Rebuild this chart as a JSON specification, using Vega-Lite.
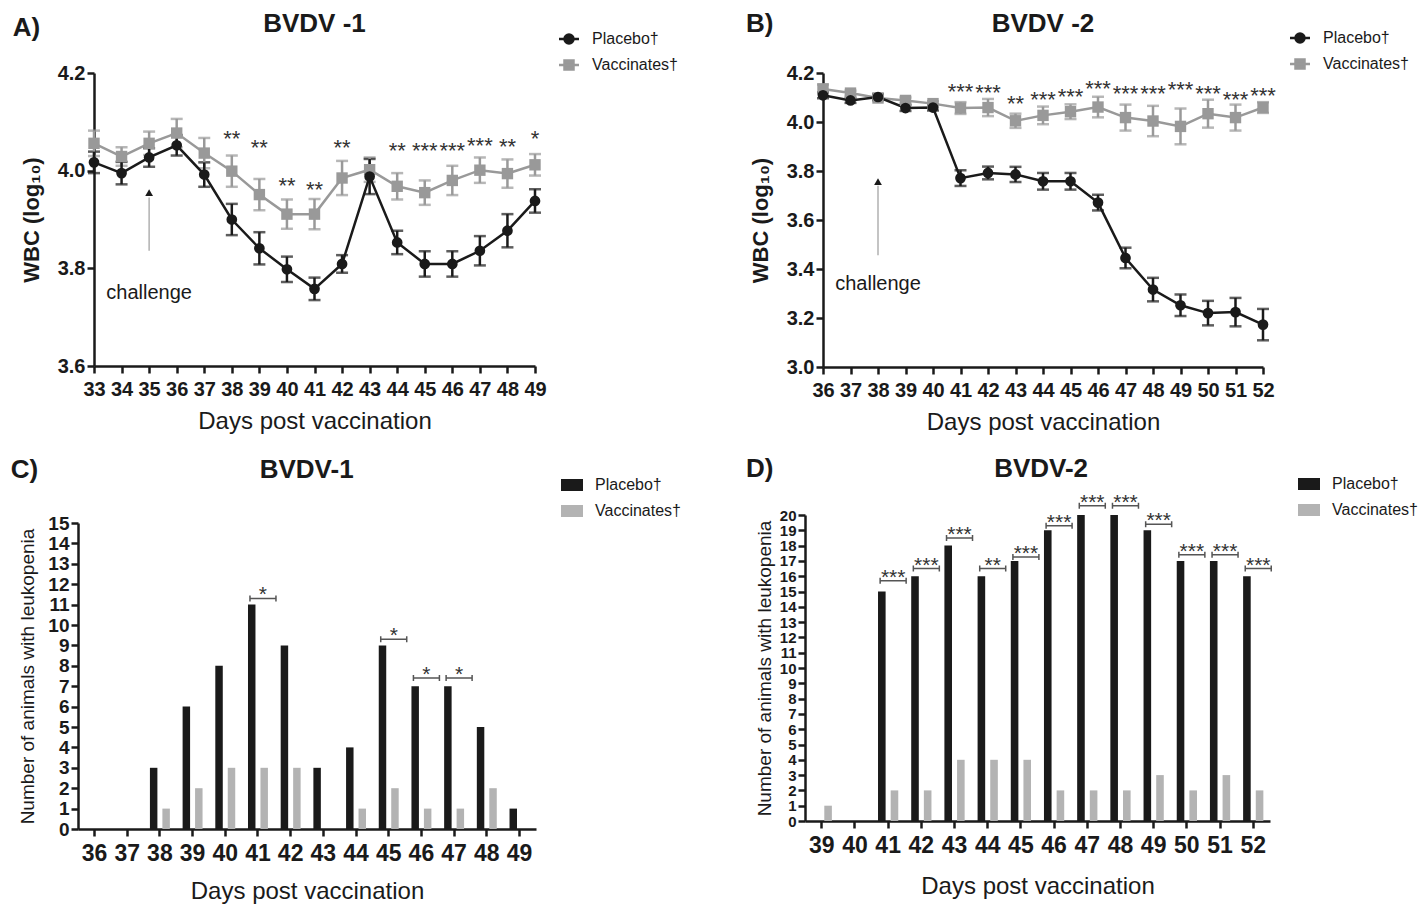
{
  "$schema": "https://vega.github.io/schema/vega-lite/v6.json",
  "background": "white",
  "padding": {"left": 10, "top": 10, "right": 5, "bottom": 5},
  "config": {
    "view": {"stroke": null},
    "font": "Liberation Sans",
    "axis": {"domainColor": "#1a1a1a", "domainWidth": 2.5, "tickColor": "#1a1a1a", "tickWidth": 2.5, "tickSize": 7, "grid": false, "labelColor": "#1a1a1a", "titleColor": "#1a1a1a", "labelFont": "Liberation Sans", "titleFont": "Liberation Sans", "labelFontWeight": "bold", "labelFlush": false, "labelOverlap": false},
    "legend": {"labelFont": "Liberation Sans", "labelFontSize": 16, "labelColor": "#1a1a1a", "padding": 0, "rowPadding": 6, "symbolSize": 100, "labelOffset": 15}
  },
  "datasets": {
    "lineA": [
      {"day": 33, "group": "Vaccinates†", "val": 4.056, "err": 0.026},
      {"day": 34, "group": "Vaccinates†", "val": 4.029, "err": 0.019},
      {"day": 35, "group": "Vaccinates†", "val": 4.056, "err": 0.024},
      {"day": 36, "group": "Vaccinates†", "val": 4.077, "err": 0.029},
      {"day": 37, "group": "Vaccinates†", "val": 4.036, "err": 0.031},
      {"day": 38, "group": "Vaccinates†", "val": 3.999, "err": 0.032},
      {"day": 39, "group": "Vaccinates†", "val": 3.951, "err": 0.032},
      {"day": 40, "group": "Vaccinates†", "val": 3.911, "err": 0.030},
      {"day": 41, "group": "Vaccinates†", "val": 3.911, "err": 0.031},
      {"day": 42, "group": "Vaccinates†", "val": 3.985, "err": 0.035},
      {"day": 43, "group": "Vaccinates†", "val": 4.002, "err": 0.025},
      {"day": 44, "group": "Vaccinates†", "val": 3.968, "err": 0.027},
      {"day": 45, "group": "Vaccinates†", "val": 3.955, "err": 0.025},
      {"day": 46, "group": "Vaccinates†", "val": 3.980, "err": 0.030},
      {"day": 47, "group": "Vaccinates†", "val": 4.001, "err": 0.026},
      {"day": 48, "group": "Vaccinates†", "val": 3.994, "err": 0.029},
      {"day": 49, "group": "Vaccinates†", "val": 4.012, "err": 0.022},
      {"day": 33, "group": "Placebo†", "val": 4.017, "err": 0.022},
      {"day": 34, "group": "Placebo†", "val": 3.995, "err": 0.023},
      {"day": 35, "group": "Placebo†", "val": 4.027, "err": 0.019},
      {"day": 36, "group": "Placebo†", "val": 4.052, "err": 0.021},
      {"day": 37, "group": "Placebo†", "val": 3.992, "err": 0.025},
      {"day": 38, "group": "Placebo†", "val": 3.900, "err": 0.032},
      {"day": 39, "group": "Placebo†", "val": 3.841, "err": 0.033},
      {"day": 40, "group": "Placebo†", "val": 3.798, "err": 0.026},
      {"day": 41, "group": "Placebo†", "val": 3.758, "err": 0.023},
      {"day": 42, "group": "Placebo†", "val": 3.809, "err": 0.018},
      {"day": 43, "group": "Placebo†", "val": 3.988, "err": 0.036},
      {"day": 44, "group": "Placebo†", "val": 3.853, "err": 0.024},
      {"day": 45, "group": "Placebo†", "val": 3.809, "err": 0.026},
      {"day": 46, "group": "Placebo†", "val": 3.809, "err": 0.026},
      {"day": 47, "group": "Placebo†", "val": 3.836, "err": 0.030},
      {"day": 48, "group": "Placebo†", "val": 3.877, "err": 0.034},
      {"day": 49, "group": "Placebo†", "val": 3.938, "err": 0.024}
    ],
    "lineB": [
      {"day": 36, "group": "Vaccinates†", "val": 4.135, "err": 0.018},
      {"day": 37, "group": "Vaccinates†", "val": 4.118, "err": 0.010},
      {"day": 38, "group": "Vaccinates†", "val": 4.098, "err": 0.010},
      {"day": 39, "group": "Vaccinates†", "val": 4.088, "err": 0.012},
      {"day": 40, "group": "Vaccinates†", "val": 4.075, "err": 0.010},
      {"day": 41, "group": "Vaccinates†", "val": 4.057, "err": 0.024},
      {"day": 42, "group": "Vaccinates†", "val": 4.059, "err": 0.035},
      {"day": 43, "group": "Vaccinates†", "val": 4.005, "err": 0.029},
      {"day": 44, "group": "Vaccinates†", "val": 4.027, "err": 0.036},
      {"day": 45, "group": "Vaccinates†", "val": 4.042, "err": 0.030},
      {"day": 46, "group": "Vaccinates†", "val": 4.061, "err": 0.042},
      {"day": 47, "group": "Vaccinates†", "val": 4.018, "err": 0.053},
      {"day": 48, "group": "Vaccinates†", "val": 4.004, "err": 0.062},
      {"day": 49, "group": "Vaccinates†", "val": 3.982, "err": 0.073},
      {"day": 50, "group": "Vaccinates†", "val": 4.034, "err": 0.057},
      {"day": 51, "group": "Vaccinates†", "val": 4.018, "err": 0.053},
      {"day": 52, "group": "Vaccinates†", "val": 4.059, "err": 0.022},
      {"day": 36, "group": "Placebo†", "val": 4.109, "err": 0.012},
      {"day": 37, "group": "Placebo†", "val": 4.088, "err": 0.010},
      {"day": 38, "group": "Placebo†", "val": 4.102, "err": 0.012},
      {"day": 39, "group": "Placebo†", "val": 4.057, "err": 0.012},
      {"day": 40, "group": "Placebo†", "val": 4.059, "err": 0.012},
      {"day": 41, "group": "Placebo†", "val": 3.771, "err": 0.032},
      {"day": 42, "group": "Placebo†", "val": 3.792, "err": 0.026},
      {"day": 43, "group": "Placebo†", "val": 3.786, "err": 0.031},
      {"day": 44, "group": "Placebo†", "val": 3.758, "err": 0.034},
      {"day": 45, "group": "Placebo†", "val": 3.758, "err": 0.034},
      {"day": 46, "group": "Placebo†", "val": 3.671, "err": 0.032},
      {"day": 47, "group": "Placebo†", "val": 3.445, "err": 0.042},
      {"day": 48, "group": "Placebo†", "val": 3.316, "err": 0.048},
      {"day": 49, "group": "Placebo†", "val": 3.252, "err": 0.044},
      {"day": 50, "group": "Placebo†", "val": 3.220, "err": 0.050},
      {"day": 51, "group": "Placebo†", "val": 3.224, "err": 0.058},
      {"day": 52, "group": "Placebo†", "val": 3.173, "err": 0.064}
    ],
    "sigA": [
      {"day": 38, "val": 4.078, "text": "**"},
      {"day": 39, "val": 4.058, "text": "**"},
      {"day": 40, "val": 3.980, "text": "**"},
      {"day": 41, "val": 3.973, "text": "**"},
      {"day": 42, "val": 4.058, "text": "**"},
      {"day": 44, "val": 4.053, "text": "**"},
      {"day": 45, "val": 4.053, "text": "***"},
      {"day": 46, "val": 4.053, "text": "***"},
      {"day": 47, "val": 4.063, "text": "***"},
      {"day": 48, "val": 4.061, "text": "**"},
      {"day": 49, "val": 4.077, "text": "*"}
    ],
    "sigB": [
      {"day": 41, "val": 4.145, "text": "***"},
      {"day": 42, "val": 4.143, "text": "***"},
      {"day": 43, "val": 4.097, "text": "**"},
      {"day": 44, "val": 4.113, "text": "***"},
      {"day": 45, "val": 4.127, "text": "***"},
      {"day": 46, "val": 4.159, "text": "***"},
      {"day": 47, "val": 4.140, "text": "***"},
      {"day": 48, "val": 4.140, "text": "***"},
      {"day": 49, "val": 4.156, "text": "***"},
      {"day": 50, "val": 4.140, "text": "***"},
      {"day": 51, "val": 4.116, "text": "***"},
      {"day": 52, "val": 4.129, "text": "***"}
    ],
    "arrowA": [{"day": 35, "val": 3.836, "hi": 3.945}],
    "tipA": [{"day": 35, "val": 3.955}],
    "noteA": [{"day": 35, "val": 3.75, "text": "challenge"}],
    "headA": [{"day": 30.55, "val": 4.292, "text": "A)"}, {"day": 41, "val": 4.300, "text": "BVDV -1"}],
    "arrowB": [{"day": 38, "val": 3.456, "hi": 3.74}],
    "tipB": [{"day": 38, "val": 3.757}],
    "noteB": [{"day": 38, "val": 3.339, "text": "challenge"}],
    "headB": [{"day": 33.7, "val": 4.4, "text": "B)"}, {"day": 44.0, "val": 4.4, "text": "BVDV -2"}],
    "barC": [
      {"day": 36, "group": "Placebo†", "val": 0}, {"day": 36, "group": "Vaccinates†", "val": 0},
      {"day": 37, "group": "Placebo†", "val": 0}, {"day": 37, "group": "Vaccinates†", "val": 0},
      {"day": 38, "group": "Placebo†", "val": 3}, {"day": 38, "group": "Vaccinates†", "val": 1},
      {"day": 39, "group": "Placebo†", "val": 6}, {"day": 39, "group": "Vaccinates†", "val": 2},
      {"day": 40, "group": "Placebo†", "val": 8}, {"day": 40, "group": "Vaccinates†", "val": 3},
      {"day": 41, "group": "Placebo†", "val": 11}, {"day": 41, "group": "Vaccinates†", "val": 3},
      {"day": 42, "group": "Placebo†", "val": 9}, {"day": 42, "group": "Vaccinates†", "val": 3},
      {"day": 43, "group": "Placebo†", "val": 3}, {"day": 43, "group": "Vaccinates†", "val": 0},
      {"day": 44, "group": "Placebo†", "val": 4}, {"day": 44, "group": "Vaccinates†", "val": 1},
      {"day": 45, "group": "Placebo†", "val": 9}, {"day": 45, "group": "Vaccinates†", "val": 2},
      {"day": 46, "group": "Placebo†", "val": 7}, {"day": 46, "group": "Vaccinates†", "val": 1},
      {"day": 47, "group": "Placebo†", "val": 7}, {"day": 47, "group": "Vaccinates†", "val": 1},
      {"day": 48, "group": "Placebo†", "val": 5}, {"day": 48, "group": "Vaccinates†", "val": 2},
      {"day": 49, "group": "Placebo†", "val": 1}, {"day": 49, "group": "Vaccinates†", "val": 0}
    ],
    "barD": [
      {"day": 39, "group": "Placebo†", "val": 0}, {"day": 39, "group": "Vaccinates†", "val": 1},
      {"day": 40, "group": "Placebo†", "val": 0}, {"day": 40, "group": "Vaccinates†", "val": 0},
      {"day": 41, "group": "Placebo†", "val": 15}, {"day": 41, "group": "Vaccinates†", "val": 2},
      {"day": 42, "group": "Placebo†", "val": 16}, {"day": 42, "group": "Vaccinates†", "val": 2},
      {"day": 43, "group": "Placebo†", "val": 18}, {"day": 43, "group": "Vaccinates†", "val": 4},
      {"day": 44, "group": "Placebo†", "val": 16}, {"day": 44, "group": "Vaccinates†", "val": 4},
      {"day": 45, "group": "Placebo†", "val": 17}, {"day": 45, "group": "Vaccinates†", "val": 4},
      {"day": 46, "group": "Placebo†", "val": 19}, {"day": 46, "group": "Vaccinates†", "val": 2},
      {"day": 47, "group": "Placebo†", "val": 20}, {"day": 47, "group": "Vaccinates†", "val": 2},
      {"day": 48, "group": "Placebo†", "val": 20}, {"day": 48, "group": "Vaccinates†", "val": 2},
      {"day": 49, "group": "Placebo†", "val": 19}, {"day": 49, "group": "Vaccinates†", "val": 3},
      {"day": 50, "group": "Placebo†", "val": 17}, {"day": 50, "group": "Vaccinates†", "val": 2},
      {"day": 51, "group": "Placebo†", "val": 17}, {"day": 51, "group": "Vaccinates†", "val": 3},
      {"day": 52, "group": "Placebo†", "val": 16}, {"day": 52, "group": "Vaccinates†", "val": 2}
    ],
    "sigC": [
      {"day": 41, "val": 11.3, "text": "*"},
      {"day": 45, "val": 9.3, "text": "*"},
      {"day": 46, "val": 7.4, "text": "*"},
      {"day": 47, "val": 7.4, "text": "*"}
    ],
    "sigD": [
      {"day": 41, "val": 15.7, "text": "***"},
      {"day": 42, "val": 16.5, "text": "***"},
      {"day": 43, "val": 18.5, "text": "***"},
      {"day": 44, "val": 16.5, "text": "**"},
      {"day": 45, "val": 17.25, "text": "***"},
      {"day": 46, "val": 19.3, "text": "***"},
      {"day": 47, "val": 20.6, "text": "***"},
      {"day": 48, "val": 20.6, "text": "***"},
      {"day": 49, "val": 19.4, "text": "***"},
      {"day": 50, "val": 17.4, "text": "***"},
      {"day": 51, "val": 17.4, "text": "***"},
      {"day": 52, "val": 16.5, "text": "***"}
    ],
    "letterC": [{"day": 36, "val": 17.6, "text": "C)"}],
    "titleC": [{"day": 42, "val": 17.6, "text": "BVDV-1"}],
    "letterD": [{"day": 39, "val": 23.0, "text": "D)"}],
    "titleD": [{"day": 46, "val": 23.0, "text": "BVDV-2"}]
  },
  "columns": 2,
  "align": "none",
  "spacing": {"row": 22, "column": 52},
  "resolve": {"scale": {"x": "independent", "y": "independent", "color": "independent", "xOffset": "independent"}, "legend": {"color": "independent"}},
  "concat": [
    {
      "width": 441, "height": 293,
      "encoding": {
        "x": {"field": "day", "type": "quantitative", "scale": {"domain": [33, 49], "nice": false, "zero": false}, "axis": {"values": [33,34,35,36,37,38,39,40,41,42,43,44,45,46,47,48,49], "title": "Days post vaccination", "labelFontSize": 20, "labelPadding": 6, "titleFontSize": 24, "titleFontWeight": "normal", "titlePadding": 10}},
        "y": {"field": "val", "type": "quantitative", "scale": {"domain": [3.6, 4.2], "nice": false, "zero": false}, "axis": {"values": [3.6, 3.8, 4.0, 4.2], "format": ".1f", "title": "WBC (log₁₀)", "labelFontSize": 20, "titleFontSize": 22, "titleFontWeight": "bold", "titlePadding": 14}},
        "color": {"field": "group", "type": "nominal", "scale": {"domain": ["Placebo†", "Vaccinates†"], "range": ["#1a1a1a", "#999999"]},
          "legend": {"title": null, "orient": "none", "legendX": 467, "legendY": -42,
            "encode": {"symbols": {"update": {
              "shape": {"signal": "datum.value === 'Placebo†' ? 'M-2,0L2,0M0.9,0A0.9,0.9,0,1,1,-0.9,0A0.9,0.9,0,1,1,0.9,0Z' : 'M-2,0L2,0M-0.9,-0.9L0.9,-0.9L0.9,0.9L-0.9,0.9Z'"},
              "fill": {"signal": "datum.value === 'Placebo†' ? '#1a1a1a' : '#999999'"},
              "stroke": {"signal": "datum.value === 'Placebo†' ? '#1a1a1a' : '#999999'"},
              "strokeWidth": {"value": 2.5}, "opacity": {"value": 1}, "fillOpacity": {"value": 1}, "strokeOpacity": {"value": 1}}}}}}
      },
      "layer": [
        {"data": {"name": "lineA"}, "mark": {"type": "errorbar", "ticks": true, "size": 12, "thickness": 2.5}, "encoding": {"yError": {"field": "err"}}},
        {"data": {"name": "lineA"}, "mark": {"type": "line", "strokeWidth": 2.5}},
        {"data": {"name": "lineA"}, "transform": [{"filter": "datum.group === 'Vaccinates†'"}], "mark": {"type": "point", "shape": "square", "filled": true, "opacity": 1, "size": 130}},
        {"data": {"name": "lineA"}, "transform": [{"filter": "datum.group === 'Placebo†'"}], "mark": {"type": "point", "shape": "circle", "filled": true, "opacity": 1, "size": 115}},
        {"data": {"name": "sigA"}, "mark": {"type": "text", "fontSize": 22, "baseline": "alphabetic", "dy": 13}, "encoding": {"text": {"field": "text"}, "color": {"value": "#333333"}}},
        {"data": {"name": "arrowA"}, "mark": {"type": "rule", "strokeWidth": 1.5}, "encoding": {"y2": {"field": "hi"}, "color": {"value": "#b0b0b0"}}},
        {"data": {"name": "tipA"}, "mark": {"type": "point", "shape": "triangle-up", "filled": true, "opacity": 1, "size": 60}, "encoding": {"color": {"value": "#1a1a1a"}}},
        {"data": {"name": "noteA"}, "mark": {"type": "text", "fontSize": 20}, "encoding": {"text": {"field": "text"}, "color": {"value": "#1a1a1a"}}},
        {"data": {"name": "headA"}, "mark": {"type": "text", "fontSize": 26, "fontWeight": "bold"}, "encoding": {"text": {"field": "text"}, "color": {"value": "#1a1a1a"}}}
      ]
    },
    {
      "width": 440, "height": 294,
      "encoding": {
        "x": {"field": "day", "type": "quantitative", "scale": {"domain": [36, 52], "nice": false, "zero": false}, "axis": {"values": [36,37,38,39,40,41,42,43,44,45,46,47,48,49,50,51,52], "title": "Days post vaccination", "labelFontSize": 20, "labelPadding": 6, "titleFontSize": 24, "titleFontWeight": "normal", "titlePadding": 10}},
        "y": {"field": "val", "type": "quantitative", "scale": {"domain": [3.0, 4.2], "nice": false, "zero": false}, "axis": {"values": [3.0, 3.2, 3.4, 3.6, 3.8, 4.0, 4.2], "format": ".1f", "title": "WBC (log₁₀)", "labelFontSize": 20, "titleFontSize": 22, "titleFontWeight": "bold", "titlePadding": 14}},
        "color": {"field": "group", "type": "nominal", "scale": {"domain": ["Placebo†", "Vaccinates†"], "range": ["#1a1a1a", "#999999"]},
          "legend": {"title": null, "orient": "none", "legendX": 469, "legendY": -43,
            "encode": {"symbols": {"update": {
              "shape": {"signal": "datum.value === 'Placebo†' ? 'M-2,0L2,0M0.9,0A0.9,0.9,0,1,1,-0.9,0A0.9,0.9,0,1,1,0.9,0Z' : 'M-2,0L2,0M-0.9,-0.9L0.9,-0.9L0.9,0.9L-0.9,0.9Z'"},
              "fill": {"signal": "datum.value === 'Placebo†' ? '#1a1a1a' : '#999999'"},
              "stroke": {"signal": "datum.value === 'Placebo†' ? '#1a1a1a' : '#999999'"},
              "strokeWidth": {"value": 2.5}, "opacity": {"value": 1}, "fillOpacity": {"value": 1}, "strokeOpacity": {"value": 1}}}}}}
      },
      "layer": [
        {"data": {"name": "lineB"}, "mark": {"type": "errorbar", "ticks": true, "size": 12, "thickness": 2.5}, "encoding": {"yError": {"field": "err"}}},
        {"data": {"name": "lineB"}, "mark": {"type": "line", "strokeWidth": 2.5}},
        {"data": {"name": "lineB"}, "transform": [{"filter": "datum.group === 'Vaccinates†'"}], "mark": {"type": "point", "shape": "square", "filled": true, "opacity": 1, "size": 130}},
        {"data": {"name": "lineB"}, "transform": [{"filter": "datum.group === 'Placebo†'"}], "mark": {"type": "point", "shape": "circle", "filled": true, "opacity": 1, "size": 115}},
        {"data": {"name": "sigB"}, "mark": {"type": "text", "fontSize": 22, "baseline": "alphabetic", "dy": 13}, "encoding": {"text": {"field": "text"}, "color": {"value": "#333333"}}},
        {"data": {"name": "arrowB"}, "mark": {"type": "rule", "strokeWidth": 1.5}, "encoding": {"y2": {"field": "hi"}, "color": {"value": "#b0b0b0"}}},
        {"data": {"name": "tipB"}, "mark": {"type": "point", "shape": "triangle-up", "filled": true, "opacity": 1, "size": 60}, "encoding": {"color": {"value": "#1a1a1a"}}},
        {"data": {"name": "noteB"}, "mark": {"type": "text", "fontSize": 20}, "encoding": {"text": {"field": "text"}, "color": {"value": "#1a1a1a"}}},
        {"data": {"name": "headB"}, "mark": {"type": "text", "fontSize": 26, "fontWeight": "bold"}, "encoding": {"text": {"field": "text"}, "color": {"value": "#1a1a1a"}}}
      ]
    },
    {
      "width": 442, "height": 306,
      "encoding": {
        "x": {"field": "day", "type": "ordinal", "scale": {"domain": [36,37,38,39,40,41,42,43,44,45,46,47,48,49], "range": [-16, 442], "paddingInner": 0.39, "paddingOuter": 0.2}, "axis": {"labelAngle": 0, "labelFontSize": 23, "labelPadding": 6, "title": "Days post vaccination", "titleFontSize": 24, "titleFontWeight": "normal", "titlePadding": 14}},
        "y": {"field": "val", "type": "quantitative", "scale": {"domain": [0, 15], "nice": false}, "axis": {"offset": 16, "values": [0,1,2,3,4,5,6,7,8,9,10,11,12,13,14,15], "title": "Number of animals with leukopenia", "labelFontSize": 19, "titleFontSize": 19, "titleFontWeight": "normal", "titlePadding": 10}}
      },
      "layer": [
        {"data": {"name": "barC"}, "mark": {"type": "bar"}, "encoding": {
          "xOffset": {"field": "group", "type": "nominal", "scale": {"paddingInner": 0.4}},
          "color": {"field": "group", "type": "nominal", "scale": {"domain": ["Placebo†", "Vaccinates†"], "range": ["#1a1a1a", "#b3b3b3"]},
            "legend": {"title": null, "orient": "none", "legendX": 457, "legendY": -59, "padding": 13, "rowPadding": 10, "symbolType": "M-2.2,-1.2L2.2,-1.2L2.2,1.2L-2.2,1.2Z", "symbolStrokeWidth": 0}}}},
        {"data": {"name": "sigC"}, "mark": {"type": "point", "shape": "M-8,-3L-8,3M-8,0L18,0M18,-3L18,3", "size": 4, "filled": false, "opacity": 1, "strokeWidth": 1.5, "color": "#555555"}},
        {"data": {"name": "sigC"}, "mark": {"type": "text", "fontSize": 21, "dx": 5, "dy": 3, "baseline": "alphabetic", "color": "#333333"}, "encoding": {"text": {"field": "text"}}},
        {"data": {"name": "letterC"}, "mark": {"type": "text", "fontSize": 26, "fontWeight": "bold", "dx": -70, "color": "#1a1a1a"}, "encoding": {"text": {"field": "text"}}},
        {"data": {"name": "titleC"}, "mark": {"type": "text", "fontSize": 26, "fontWeight": "bold", "dx": 16, "color": "#1a1a1a"}, "encoding": {"text": {"field": "text"}}}
      ]
    },
    {
      "width": 465, "height": 306,
      "encoding": {
        "x": {"field": "day", "type": "ordinal", "scale": {"domain": [39,40,41,42,43,44,45,46,47,48,49,50,51,52], "paddingInner": 0.39, "paddingOuter": 0.2}, "axis": {"labelAngle": 0, "labelFontSize": 23, "labelPadding": 6, "title": "Days post vaccination", "titleFontSize": 24, "titleFontWeight": "normal", "titlePadding": 17}},
        "y": {"field": "val", "type": "quantitative", "scale": {"domain": [0, 20], "nice": false}, "axis": {"values": [0,1,2,3,4,5,6,7,8,9,10,11,12,13,14,15,16,17,18,19,20], "title": "Number of animals with leukopenia", "labelFontSize": 15, "titleFontSize": 19, "titleFontWeight": "normal", "titlePadding": 5}}
      },
      "layer": [
        {"data": {"name": "barD"}, "mark": {"type": "bar"}, "encoding": {
          "xOffset": {"field": "group", "type": "nominal", "scale": {"paddingInner": 0.4}},
          "color": {"field": "group", "type": "nominal", "scale": {"domain": ["Placebo†", "Vaccinates†"], "range": ["#1a1a1a", "#b3b3b3"]},
            "legend": {"title": null, "orient": "none", "legendX": 496, "legendY": -39, "rowPadding": 10, "symbolType": "M-2.2,-1.2L2.2,-1.2L2.2,1.2L-2.2,1.2Z", "symbolStrokeWidth": 0}}}},
        {"data": {"name": "sigD"}, "mark": {"type": "point", "shape": "M-8,-3L-8,3M-8,0L18,0M18,-3L18,3", "size": 4, "filled": false, "opacity": 1, "strokeWidth": 1.5, "color": "#555555"}},
        {"data": {"name": "sigD"}, "mark": {"type": "text", "fontSize": 21, "dx": 5, "dy": 3, "baseline": "alphabetic", "color": "#333333"}, "encoding": {"text": {"field": "text"}}},
        {"data": {"name": "letterD"}, "mark": {"type": "text", "fontSize": 26, "fontWeight": "bold", "dx": -62, "color": "#1a1a1a"}, "encoding": {"text": {"field": "text"}}},
        {"data": {"name": "titleD"}, "mark": {"type": "text", "fontSize": 26, "fontWeight": "bold", "dx": -13, "color": "#1a1a1a"}, "encoding": {"text": {"field": "text"}}}
      ]
    }
  ]
}
